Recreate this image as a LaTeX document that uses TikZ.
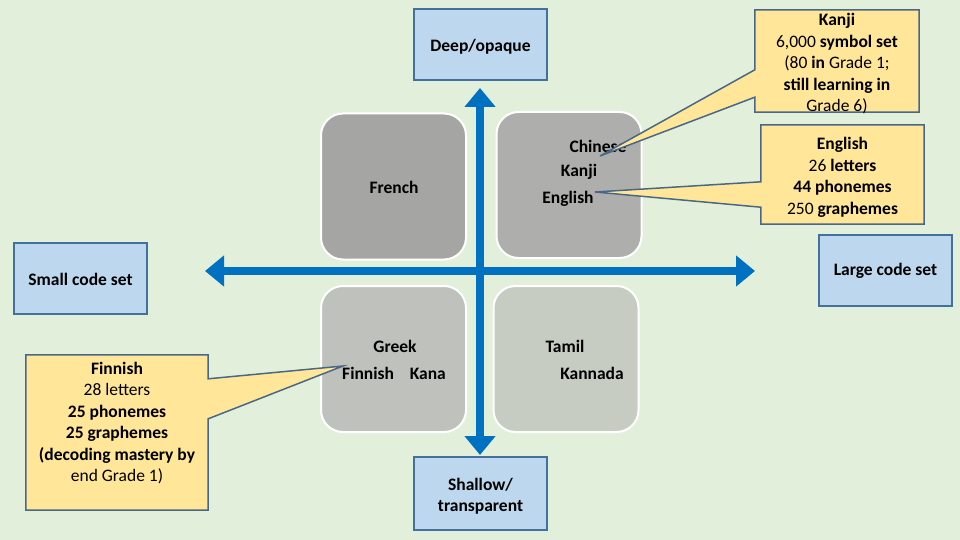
\documentclass[tikz,border=0pt]{standalone}
\usepackage{fontspec}
\setmainfont{Carlito}
\usetikzlibrary{arrows.meta}
\definecolor{bg}{HTML}{E2EFDA}
\definecolor{boxblue}{HTML}{BDD7EE}
\definecolor{boxedge}{HTML}{41719C}
\definecolor{callfill}{HTML}{FFE699}
\definecolor{calledge}{HTML}{4A6885}
\definecolor{axisblue}{HTML}{0070C0}
\definecolor{sqTL}{HTML}{A5A6A4}
\definecolor{sqTR}{HTML}{AEAFAD}
\definecolor{sqBL}{HTML}{BFC2BC}
\definecolor{sqBR}{HTML}{C7CCC3}
\newcommand{\lowerby}[2]{\raisebox{-#1}[\height][\depth]{#2}}
\begin{document}
\begin{tikzpicture}[x=1pt,y=-1pt,
  every node/.style={font=\fontsize{17.5}{21.5}\selectfont\bfseries, inner sep=0pt},
  bluebox/.style={draw=boxedge, fill=boxblue, line width=2pt, minimum width=133pt, minimum height=71pt, align=center},
  square/.style={draw=white, line width=2pt, rounded corners=22pt, minimum width=145pt, minimum height=146pt},
  lbl/.style={anchor=center},
  calltext/.style={align=center},
  callout/.style={draw=calledge, fill=callfill, line width=1.5pt, line join=miter},
  axis/.style={draw=axisblue, line width=7.5pt, {Triangle[length=19pt,width=30pt]}-{Triangle[length=19pt,width=30pt]}}
]
\useasboundingbox (0,0) rectangle (960,540);
\fill[bg] (0,0) rectangle (960,540);

% quadrant squares
\node[square, fill=sqTL] (tl) at (393.5,186.5) {};
\node[square, fill=sqTR] (tr) at (569,185) {};
\node[square, fill=sqBL] (bl) at (393.5,359) {};
\node[square, fill=sqBR] (br) at (566,359) {};

% axes
\coordinate (axT) at (480,88);
\coordinate (axB) at (480,455);
\coordinate (axL) at (205,271);
\coordinate (axR) at (755,271);
\draw[axis] (axT) -- (axB);
\draw[axis] (axL) -- (axR);

% quadrant labels
\node[lbl] (french) at (394,187) {French};
\node[lbl] (chinese) at (598,146) {Chinese};
\node[lbl] (kanji) at (579,172) {Kanji};
\node[lbl] (english) at (568,199) {English};
\node[lbl] (greek) at (395,346) {Greek};
\node[lbl] (finkana) at (394,373) {Finnish\hspace{0.9em}Kana};
\node[lbl] (tamil) at (565,346) {Tamil};
\node[lbl] (kannada) at (592,373) {Kannada};

% axis end boxes
\node[bluebox] (deep) at (480.5,44.5) {\lowerby{2pt}{Deep/opaque}};
\node[bluebox] (small) at (80.5,278.5) {\lowerby{1pt}{Small code set}};
\node[bluebox] (large) at (885.5,270) {\lowerby{1pt}{Large code set}};
\node[bluebox, minimum height=73pt] (shallow) at (480.5,493.5) {\lowerby{3pt}{\begin{tabular}{@{}c@{}}Shallow/\\transparent\end{tabular}}};

% callout tips
\coordinate (kanjitip) at (600,156);
\coordinate (engtip) at (595,192);
\coordinate (fintip) at (343,366);

% Kanji callout
\node[minimum width=164pt, minimum height=102pt] (kanjibox) at (837,61) {};
\path[callout] (kanjibox.north west) -- (kanjibox.north east) -- (kanjibox.south east) -- (kanjibox.south west)
  -- ([yshift=15pt]kanjibox.south west) -- (kanjitip) -- ([yshift=-60pt]kanjibox.north west) -- cycle;
\node[calltext] (kanjitext) at ([yshift=-3pt]kanjibox.center) {Kanji\\{\mdseries 6,000} symbol set\\{\mdseries(80} in {\mdseries Grade 1;}\\still learning in\\{\mdseries Grade 6)}};

% English callout
\node[minimum width=163pt, minimum height=99pt] (engbox) at (842.5,174.5) {};
\path[callout] (engbox.north west) -- (engbox.north east) -- (engbox.south east) -- (engbox.south west)
  -- ([yshift=17pt]engbox.south west) -- (engtip) -- ([yshift=-57pt]engbox.north west) -- cycle;
\node[calltext] (engtext) at ([yshift=-3pt]engbox.center) {English\\{\mdseries 26} letters\\44 phonemes\\{\mdseries 250} graphemes};

% Finnish callout
\node[minimum width=182pt, minimum height=155pt] (finbox) at (117,432.5) {};
\path[callout] (finbox.north west) -- (finbox.north east) -- ([yshift=-24pt]finbox.north east) -- (fintip)
  -- ([yshift=-64pt]finbox.north east) -- (finbox.south east) -- (finbox.south west) -- cycle;
\node[calltext, anchor=north] (fintext) at ([yshift=-7pt]finbox.north) {Finnish\\{\mdseries 28 letters}\\25 phonemes\\25 graphemes\\(decoding mastery by\\{\mdseries end Grade 1)}};
\end{tikzpicture}
\end{document}
